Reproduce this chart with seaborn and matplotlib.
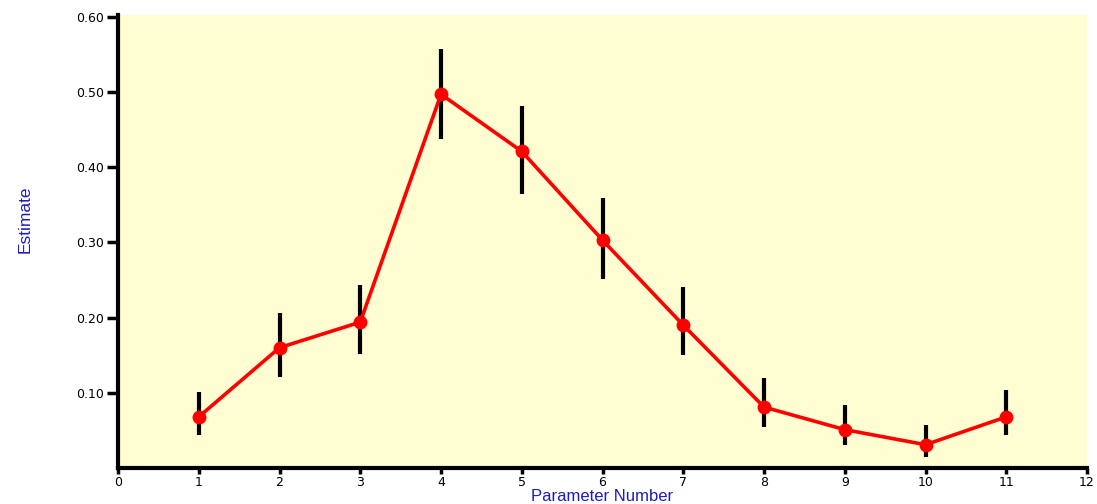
import numpy as np
import pandas as pd
import seaborn as sns
import matplotlib
matplotlib.use("Agg")
import matplotlib.pyplot as plt
import matplotlib.ticker as ticker

# Values
param_number = [1, 2, 3, 4, 5, 6, 7, 8, 9, 10, 11]
estimate = [0.068, 0.160, 0.194, 0.497, 0.421, 0.303, 0.190, 0.081, 0.051, 0.031, 0.068]
err_low = [0.044, 0.121, 0.152, 0.437, 0.364, 0.251, 0.150, 0.055, 0.031, 0.015, 0.044]
err_high = [0.101, 0.206, 0.243, 0.557, 0.481, 0.359, 0.241, 0.120, 0.084, 0.057, 0.104]

x_ticks = list(range(0, 13))
y_ticks = [0.10, 0.20, 0.30, 0.40, 0.50, 0.60]

df = pd.DataFrame({'Parameter': param_number, 'Estimate': estimate,
                   'Low': err_low, 'High': err_high})

sns.set_style('white')
plt.rcParams['font.family'] = ['Liberation Sans', 'DejaVu Sans']

fig = plt.figure(figsize=(10.97, 5.04), dpi=100)
ax = fig.add_axes([118 / 1097, 36 / 504, 969 / 1097, 453 / 504])
ax.set_facecolor('#fffdd2')

# error bars (black, no caps) behind the line
yerr = np.array([df['Estimate'] - df['Low'], df['High'] - df['Estimate']])
ax.errorbar(df['Parameter'], df['Estimate'], yerr=yerr, fmt='none',
            ecolor='black', elinewidth=3, capsize=0, zorder=2)

sns.lineplot(data=df, x='Parameter', y='Estimate', ax=ax, color='#ff0000',
             linewidth=2.6, marker='o', markersize=10, markeredgewidth=0,
             errorbar=None, zorder=3)

ax.set_xlim(0, 12)
ax.set_ylim(0, 0.6024)
ax.set_xticks(x_ticks)
ax.set_yticks(y_ticks)
ax.yaxis.set_major_formatter(ticker.FuncFormatter(lambda v, pos: f'{v:.2f}'))

for side in ['top', 'right']:
    ax.spines[side].set_visible(False)
for side in ['left', 'bottom']:
    ax.spines[side].set_linewidth(3)
    ax.spines[side].set_color('black')

ax.tick_params(axis='y', direction='out', length=8, width=2.5, labelsize=9,
               pad=2, colors='black')
ax.tick_params(axis='x', direction='out', length=4, width=2.5, labelsize=9,
               pad=1.5, colors='black')
ax.tick_params(left=True, bottom=True)
for lbl in ax.get_xticklabels() + ax.get_yticklabels():
    lbl.set_family('DejaVu Sans')

ax.set_ylabel('Estimate', color='#1c1cc0', fontsize=12.5)
ax.yaxis.set_label_coords(-0.088, 0.55)
# x label sits in the thin strip under the tick labels
ax.set_xlabel('Parameter Number', color='#1c1cc0', fontsize=12)
ax.xaxis.set_label_coords(0.5, -0.079)
ax.xaxis.label.set_va('bottom')

fig.savefig('out.png', dpi=100)
